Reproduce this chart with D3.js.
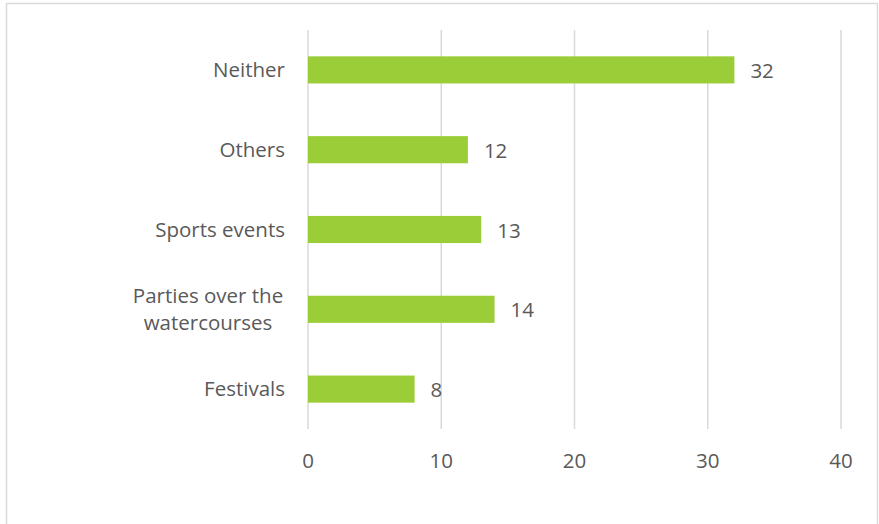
<!DOCTYPE html>
<html><head><meta charset="utf-8">
<script src="https://cdn.jsdelivr.net/npm/d3@7/dist/d3.min.js"></script>
<style>body{margin:0;background:#fff;} svg{display:block;}</style>
</head><body>
<svg id="c" width="879" height="524"></svg>
<script>
const categories = ["Neither", "Others", "Sports events", "Parties over the|watercourses", "Festivals"];
const values = [32, 12, 13, 14, 8];
const ticks = [0, 10, 20, 30, 40];

const svg = d3.select("#c");
const font = "'Open Sans', sans-serif";
const fs = 20.5;
const txt = "#595959";

svg.append("rect").attr("x", 6.5).attr("y", 3.5).attr("width", 871).attr("height", 530)
  .attr("fill", "#fff").attr("stroke", "#d9d9d9").attr("stroke-width", 1.5);

const x = d3.scaleLinear().domain([0, 40]).range([308, 841]);
const y = d3.scaleBand().domain(categories).range([30, 429]).paddingInner(0.66).paddingOuter(0.33);

const g = svg.append("g");
g.selectAll("line.grid").data(ticks).join("line")
  .attr("x1", d => x(d)).attr("x2", d => x(d))
  .attr("y1", 30).attr("y2", 429)
  .attr("stroke", "#d9d9d9").attr("stroke-width", 1.5);

g.selectAll("rect.bar").data(values).join("rect")
  .attr("x", x(0)).attr("y", (d, i) => y(categories[i]))
  .attr("width", d => x(d) - x(0)).attr("height", y.bandwidth())
  .attr("fill", "#9acd38");

g.selectAll("text.val").data(values).join("text")
  .attr("x", d => x(d) + 16).attr("y", (d, i) => y(categories[i]) + y.bandwidth() / 2 + 1)
  .attr("dy", "0.35em").attr("font-family", font).attr("font-size", fs).attr("fill", txt)
  .text(d => d);

g.selectAll("text.tick").data(ticks).join("text")
  .attr("x", d => x(d)).attr("y", 461).attr("dy", "0.35em").attr("text-anchor", "middle")
  .attr("font-family", font).attr("font-size", fs).attr("fill", txt).text(d => d);

categories.forEach((c, i) => {
  const lines = c.split("|");
  const cy = y(c) + y.bandwidth() / 2;
  const lh = 27;
  lines.forEach((l, j) => {
    g.append("text").attr("x", lines.length > 1 ? 208 : 285)
      .attr("text-anchor", lines.length > 1 ? "middle" : "end")
      .attr("y", cy + (j - (lines.length - 1) / 2) * lh).attr("dy", "0.35em")
      .attr("font-family", font).attr("font-size", fs).attr("fill", txt).text(l);
  });
});
</script>
</body></html>
